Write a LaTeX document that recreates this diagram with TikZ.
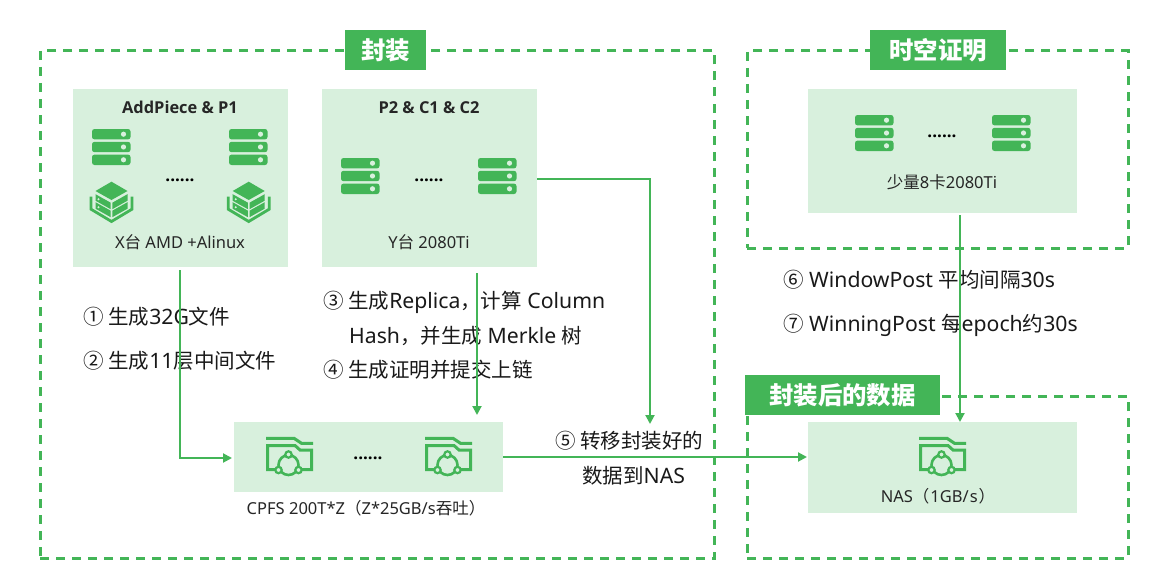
\documentclass[tikz,border=0pt]{standalone}
\usepackage{fontspec}
\setmainfont{Noto Sans}
\newfontfamily\cj{Noto Sans CJK SC}
\newfontfamily\hd{Open Sans}
\usetikzlibrary{arrows.meta}
\definecolor{gr}{HTML}{43B557}
\definecolor{lt}{HTML}{D8F0DD}
\newcommand{\fs}[1]{\fontsize{#1}{#1}\selectfont}
\newcommand{\zh}[1]{{\cj #1}}
\newcommand{\zn}[1]{{\fs{20.5}\cj #1}}
\tikzset{
  x=1pt,y=-1pt,
  dashbox/.style={draw=gr,line width=3pt,dash pattern=on 9pt off 7pt,anchor=north west,inner sep=0pt,outer sep=0pt},
  lightbox/.style={fill=lt,anchor=north west,inner sep=0pt,outer sep=0pt},
  titlebox/.style={fill=gr,text=white,font=\fs{24.4}\bfseries\cj,inner sep=0pt,outer sep=0pt,anchor=north west,align=center},
  headtxt/.style={font=\fs{16.4}\hd\bfseries,text=black!85,anchor=base,inner sep=0pt},
  captxt/.style={font=\fs{16.5},text=black!85,anchor=base,inner sep=0pt},
  notetxt/.style={font=\fs{21.2},text=black!90,anchor=base west,inner sep=0pt},
  dotstxt/.style={font=\fs{17}\hd\bfseries,text=black,anchor=base,inner sep=0pt},
  conn/.style={draw=gr,line width=2pt,-{Triangle[length=9pt,width=9pt]}},
  server/.pic={
    \foreach \yy in {0,12.8,25.6}{
      \fill[gr,rounded corners=2.5pt] (0,\yy) rectangle (38.5,\yy+10.4);
      \fill[lt] (31.5,\yy+5.2) circle (2.6);
    }
  },
  cube/.pic={
    \fill[gr] (0,0)--(16,9.3)--(0,18.3)--(-16,9.3)--cycle;
    \fill[gr] (-16,12.5)--(-0.8,21)--(-0.8,27.5)--(-16,19)--cycle;
    \fill[gr] (16,12.5)--(0.8,21)--(0.8,27.5)--(16,19)--cycle;
    \fill[gr] (-16,20.5)--(-0.8,29)--(-0.8,35.5)--(-16,27)--cycle;
    \fill[gr] (16,20.5)--(0.8,29)--(0.8,35.5)--(16,27)--cycle;
    \fill[lt] (-13,17.5) circle (1.1) (-13,25.5) circle (1.1);
    \draw[gr,line width=2.8pt] (-20.5,15)--(-20.5,27.5)--(0,39.8)--(20.5,27.5)--(20.5,15);
  },
  folder/.pic={
    \draw[gr,line width=3pt] (0,1.3)--(28,1.3)--(35.5,6.3)--(47,6.3);
    \draw[gr,line width=3pt] (9,32.5)--(1.5,32.5)--(1.5,8.5)--(29,8.5)--(34,13)--(45.5,13)--(45.5,32.5)--(36,32.5);
    \draw[gr,line width=2.6pt] (22.5,28) circle (10);
    \draw[gr,line width=2.2pt,fill=lt] (22.5,17.5) circle (3.2);
    \draw[gr,line width=2.2pt,fill=lt] (12.5,33) circle (3.2);
    \draw[gr,line width=2.2pt,fill=lt] (32.5,33) circle (3.2);
  },
}
\begin{document}
\begin{tikzpicture}
\useasboundingbox (0,0) rectangle (1176,586);
\fill[white] (0,0) rectangle (1176,586);
% dashed frames
\node[dashbox,minimum width=674.5pt,minimum height=507pt] (frameA) at (40,51) {};
\node[dashbox,minimum width=381pt,minimum height=197pt] (frameB) at (747,51) {};
\node[dashbox,minimum width=381pt,minimum height=162pt] (frameC) at (747,396) {};
% light boxes
\node[lightbox,minimum width=215pt,minimum height=178pt] (ap) at (73,89) {};
\node[lightbox,minimum width=215pt,minimum height=178pt] (pp) at (322,89) {};
\node[lightbox,minimum width=269pt,minimum height=124pt] (tm) at (808,89) {};
\node[lightbox,minimum width=269pt,minimum height=70pt] (cpfs) at (234,422) {};
\node[lightbox,minimum width=269pt,minimum height=91pt] (nas) at (808,422) {};
% titles
\node[titlebox,minimum width=81pt,minimum height=40pt] (t1) at (345,30) {封装};
\node[titlebox,minimum width=136pt,minimum height=40pt] (t2) at (870,30) {时空证明};
\node[titlebox,minimum width=195pt,minimum height=40pt] (t3) at (745,375) {封装后的数据};
% box texts
\node[headtxt] (h1) at (180,113.5) {AddPiece \& P1};
\node[headtxt] (h2) at (429,113.5) {P2 \& C1 \& C2};
\node[captxt] (c1) at (180,248.5) {X\zh{台} AMD +Alinux};
\node[captxt] (c2) at (429,248.5) {Y\zh{台} 2080Ti};
\node[captxt] (c3) at (942,188.5) {\zh{少量}8\zh{卡}2080Ti};
\node[captxt] (c4) at (366,514.5) {CPFS 200T*Z\zh{（}Z*25GB/s\zh{吞吐）}};
\node[captxt] (c5) at (938,502.5) {NAS\zh{（}\kern1pt 1GB/\kern1pt s\kern1pt\zh{）}};
\node[dotstxt] (d1) at (180,181) {......};
\node[dotstxt] (d2) at (429,181) {......};
\node[dotstxt] (d3) at (942,137) {......};
\node[dotstxt] (d4) at (368,459) {......};
% icons
\pic at (92,129) {server}; \pic at (229,129) {server};
\pic at (341,158) {server}; \pic at (478,158) {server};
\pic at (855,115) {server}; \pic at (992,115) {server};
\pic at (111.5,181.7) {cube}; \pic at (248.7,181.7) {cube};
\pic at (266,437) {folder}; \pic at (425,437) {folder}; \pic at (919,437) {folder};
% notes
\node[notetxt] (n1) at (83,324) {\zn{① 生成}32G\zn{文件}};
\node[notetxt] (n2) at (83,368) {\zn{② 生成}11\zn{层中间文件}};
\node[notetxt] (n3) at (323,308) {\zn{③ 生成}Replica\zn{，计算} Column};
\node[notetxt] (n3b) at (349,343) {Hash\zn{，并生成} Merkle \zn{树}};
\node[notetxt] (n4) at (323,377) {\zn{④ 生成证明并提交上链}};
\node[notetxt] (n5) at (555,448) {\zn{⑤ 转移封装好的}};
\node[notetxt] (n5b) at (582,483) {\zn{数据到}NAS};
\node[notetxt] (n6) at (783,287) {\zn{⑥} WindowPost \zn{平均间隔}30s};
\node[notetxt] (n7) at (783,331) {\zn{⑦} WinningPost \zn{每}epoch\zn{约}30s};
% connector ends
\coordinate (aout) at (180,270);
\coordinate (ppout) at (477,273);
\coordinate (ppin) at (477,415);
\coordinate (ppright) at (537,179);
\coordinate (tr) at (650,424);
\coordinate (tmout) at (960,215);
\coordinate (nasin) at (960,422);
\coordinate (cpfsin) at (232,458);
\coordinate (cpfsout) at (503,457);
\coordinate (nasl) at (807,457);
% connectors
\draw[conn] (aout) |- (cpfsin);
\draw[conn] (ppout) -- (ppin);
\draw[conn] (ppright) -| (tr);
\draw[conn] (cpfsout) -- (nasl);
\draw[conn] (tmout) -- (nasin);
\end{tikzpicture}
\end{document}
